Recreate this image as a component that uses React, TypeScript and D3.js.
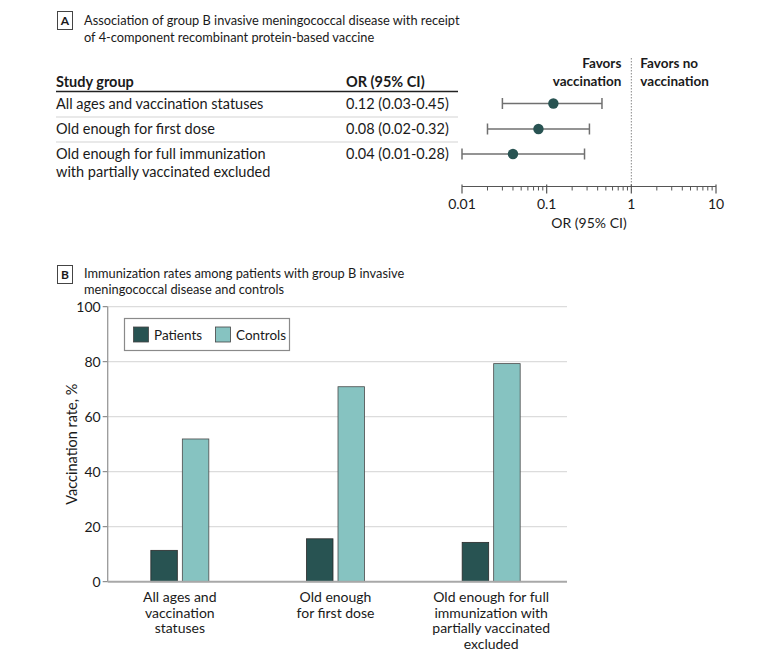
import React from "react";
import * as d3 from "d3";

// ---------- Data ----------
const tableGroups: string[][] = [
  ["All ages and vaccination statuses"],
  ["Old enough for first dose"],
  ["Old enough for full immunization", "with partially vaccinated excluded"],
];
const orValues = [0.12, 0.08, 0.04];
const ciLow = [0.03, 0.02, 0.01];
const ciHigh = [0.45, 0.32, 0.28];
const orTicks = [0.01, 0.1, 1, 10];

const barCategories = ["all", "first", "full"];
const barCategoryLabels: string[][] = [
  ["All ages and", "vaccination", "statuses"],
  ["Old enough", "for first dose"],
  ["Old enough for full", "immunization with", "partially vaccinated", "excluded"],
];
const patientsRates = [11.4, 15.6, 14.3];
const controlsRates = [51.9, 70.9, 79.3];
const rateTicks = [0, 20, 40, 60, 80, 100];
const seriesNames = ["Patients", "Controls"];

// ---------- Styles ----------
const FONT = "Lato, 'Open Sans', sans-serif";
const DARK = "#285352";
const LIGHT = "#86c3c1";
const TEXT = "#1a1a1a";

export default function App() {
  // Panel A scales
  const xOR = d3.scaleLog().domain([0.01, 10]).range([462, 716]);
  const rowY = [103.5, 129, 154];
  const axisYA = 186.5;
  const minorTicks = xOR.ticks().filter((t) => !orTicks.some((m) => Math.abs(m - t) < 1e-9));
  const fmt = d3.format(".2f");

  // Panel B scales
  const yRate = d3.scaleLinear().domain([0, 100]).range([581.7, 306.7]);
  const xCat = d3.scalePoint<string>().domain(barCategories).range([102, 569]).padding(0.5);
  const barW = 26.5;
  const barGap = 5;
  const plotLeft = 107.7;
  const plotRight = 567;

  return (
    <svg width={780} height={661} style={{ display: "block", position: "absolute", left: 0, top: 0 }} fontFamily={FONT}>
      <rect width={780} height={661} fill="#fff" />

      {/* ---------- Panel A ---------- */}
      <rect x={57.5} y={11.5} width={15} height={18} fill="#fff" stroke="#444" strokeWidth={1} />
      <text x={65} y={25} textAnchor="middle" fontSize={12} fontWeight="bold" fill={TEXT}>A</text>
      <text x={84} y={24.5} fontSize={12.8} fill={TEXT}>Association of group B invasive meningococcal disease with receipt</text>
      <text x={84} y={41.5} fontSize={12.8} fill={TEXT}>of 4-component recombinant protein-based vaccine</text>

      <text x={56} y={87} fontSize={14.5} fontWeight="bold" fill={TEXT}>Study group</text>
      <text x={346} y={87} fontSize={14.5} fontWeight="bold" fill={TEXT}>OR (95% CI)</text>
      <line x1={56} x2={458} y1={91.5} y2={91.5} stroke="#222" strokeWidth={1.5} />
      {[117, 142].map((y, i) => (
        <line key={i} x1={56} x2={458} y1={y} y2={y} stroke="#d4d4d4" strokeWidth={1.2} />
      ))}
      {tableGroups.map((lines, i) => (
        <g key={i}>
          {lines.map((ln, j) => (
            <text key={j} x={56} y={rowY[i] + 5 + j * 18} fontSize={14.5} fill={TEXT}>{ln}</text>
          ))}
          <text x={346} y={rowY[i] + 5} fontSize={14.5} fill={TEXT}>
            {`${fmt(orValues[i])} (${fmt(ciLow[i])}-${fmt(ciHigh[i])})`}
          </text>
        </g>
      ))}

      {/* reference line */}
      <line x1={xOR(1)} x2={xOR(1)} y1={58} y2={axisYA} stroke="#8a8a8a" strokeWidth={1} strokeDasharray="1.5,1.5" />
      <text x={xOR(1) - 10} y={68} textAnchor="end" fontSize={13.5} fontWeight="bold" fill={TEXT}>Favors</text>
      <text x={xOR(1) - 10} y={86} textAnchor="end" fontSize={13.5} fontWeight="bold" fill={TEXT}>vaccination</text>
      <text x={xOR(1) + 9} y={68} fontSize={13.5} fontWeight="bold" fill={TEXT}>Favors no</text>
      <text x={xOR(1) + 9} y={86} fontSize={13.5} fontWeight="bold" fill={TEXT}>vaccination</text>

      {/* CI whiskers and points */}
      {orValues.map((v, i) => (
        <g key={i}>
          <line x1={xOR(ciLow[i])} x2={xOR(ciHigh[i])} y1={rowY[i]} y2={rowY[i]} stroke="#707070" strokeWidth={1.5} />
          <line x1={xOR(ciLow[i])} x2={xOR(ciLow[i])} y1={rowY[i] - 5.5} y2={rowY[i] + 5.5} stroke="#707070" strokeWidth={1.5} />
          <line x1={xOR(ciHigh[i])} x2={xOR(ciHigh[i])} y1={rowY[i] - 5.5} y2={rowY[i] + 5.5} stroke="#707070" strokeWidth={1.5} />
          <circle cx={xOR(v)} cy={rowY[i]} r={5.2} fill={DARK} />
        </g>
      ))}

      {/* OR axis */}
      <line x1={xOR(0.01)} x2={xOR(10)} y1={axisYA} y2={axisYA} stroke="#555" strokeWidth={1.2} />
      {orTicks.map((t) => (
        <g key={t}>
          <line x1={xOR(t)} x2={xOR(t)} y1={axisYA - 2} y2={axisYA + 7} stroke="#555" strokeWidth={1.2} />
          <text x={xOR(t)} y={209} textAnchor="middle" fontSize={14} fill={TEXT}>{String(t)}</text>
        </g>
      ))}
      {minorTicks.map((t) => (
        <line key={t} x1={xOR(t)} x2={xOR(t)} y1={axisYA} y2={axisYA + 4} stroke="#555" strokeWidth={1} />
      ))}
      <text x={(xOR(0.01) + xOR(10)) / 2} y={228} textAnchor="middle" fontSize={14} fill={TEXT}>OR (95% CI)</text>

      {/* ---------- Panel B ---------- */}
      <rect x={57.5} y={265.5} width={15} height={18} fill="#fff" stroke="#444" strokeWidth={1} />
      <text x={65} y={279} textAnchor="middle" fontSize={12} fontWeight="bold" fill={TEXT}>B</text>
      <text x={84} y={277.5} fontSize={12.8} fill={TEXT}>Immunization rates among patients with group B invasive</text>
      <text x={84} y={294} fontSize={12.8} fill={TEXT}>meningococcal disease and controls</text>

      {/* gridlines & y ticks */}
      {rateTicks.map((t) => (
        <g key={t}>
          {t > 0 && (
            <line x1={plotLeft} x2={plotRight} y1={yRate(t)} y2={yRate(t)} stroke="#dcdcdc" strokeWidth={1.2} />
          )}
          <line x1={plotLeft - 5} x2={plotLeft} y1={yRate(t)} y2={yRate(t)} stroke="#777" strokeWidth={1} />
          <text x={plotLeft - 7} y={yRate(t) + 5} textAnchor="end" fontSize={14} fill={TEXT}>{t}</text>
        </g>
      ))}
      <line x1={plotLeft} x2={plotLeft} y1={yRate(100)} y2={yRate(0)} stroke="#999" strokeWidth={1.3} />
      <text
        transform={`translate(${77},${(yRate(0) + yRate(100)) / 2}) rotate(-90)`}
        textAnchor="middle"
        fontSize={14.5}
        fill={TEXT}
      >
        Vaccination rate, %
      </text>

      {/* bars */}
      {barCategories.map((c, i) => {
        const cx = xCat(c)!;
        return (
          <g key={c}>
            <rect x={cx - barGap / 2 - barW} y={yRate(patientsRates[i])} width={barW} height={yRate(0) - yRate(patientsRates[i])} fill={DARK} stroke="#2a2a2a" strokeWidth={0.8} />
            <rect x={cx + barGap / 2} y={yRate(controlsRates[i])} width={barW} height={yRate(0) - yRate(controlsRates[i])} fill={LIGHT} stroke="#4a4a4a" strokeWidth={0.8} />
            {barCategoryLabels[i].map((ln, j) => (
              <text key={j} x={cx} y={602 + j * 15.7} textAnchor="middle" fontSize={14} fill={TEXT}>{ln}</text>
            ))}
          </g>
        );
      })}
      <line x1={plotLeft} x2={plotRight} y1={yRate(0)} y2={yRate(0)} stroke="#a8a8a8" strokeWidth={2} />

      {/* legend */}
      <rect x={124.5} y={318.5} width={165} height={32} fill="#fff" stroke="#8a8a8a" strokeWidth={1.2} />
      {seriesNames.map((s, i) => {
        const lx = i === 0 ? 133 : 215;
        return (
          <g key={s}>
            <rect x={lx + 0.5} y={327} width={15} height={15} fill={i === 0 ? DARK : LIGHT} stroke="#444" strokeWidth={0.8} />
            <text x={lx + 21} y={339.5} fontSize={13.5} fill={TEXT}>{s}</text>
          </g>
        );
      })}
    </svg>
  );
}
